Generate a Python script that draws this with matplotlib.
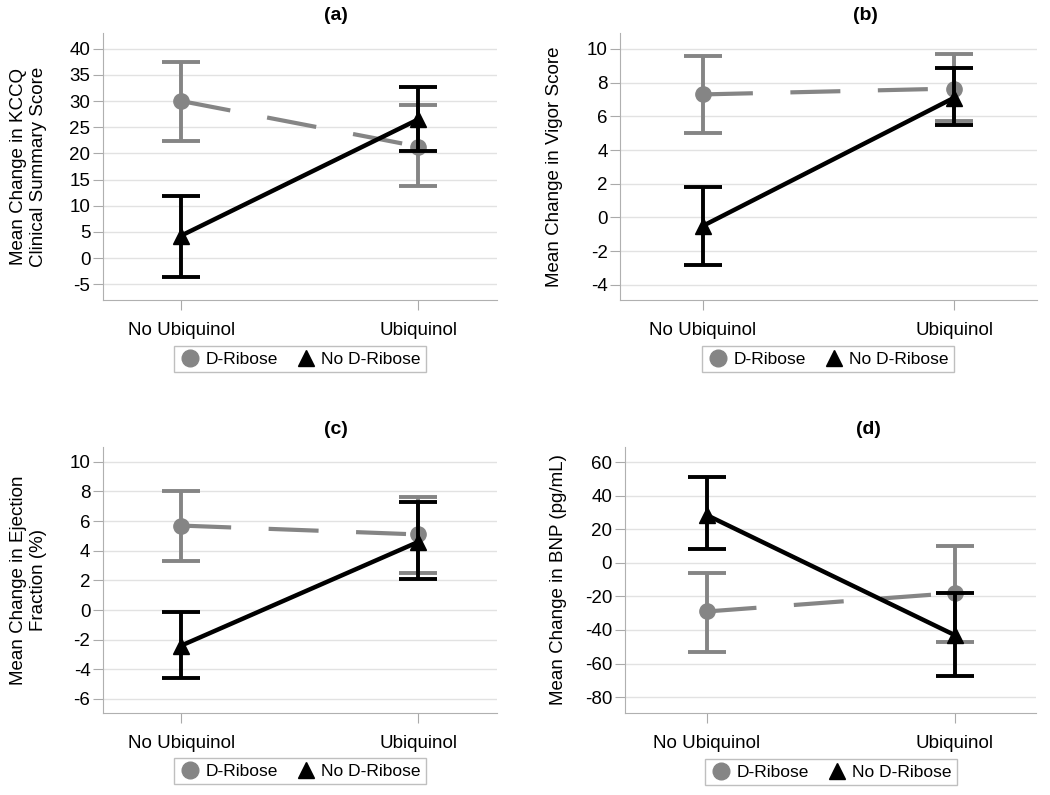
import numpy as np
import matplotlib
matplotlib.use("Agg")
import matplotlib.pyplot as plt
from matplotlib.lines import Line2D

plt.rcParams['font.family'] = ['Liberation Sans', 'DejaVu Sans']

groups = ["No Ubiquinol", "Ubiquinol"]
series = ["D-Ribose", "No D-Ribose"]

# panel data: mean, lower CI, upper CI for (No Ubiquinol, Ubiquinol)
a_rib = [30.0, 21.3]
a_rib_lo = [22.3, 13.8]
a_rib_hi = [37.5, 29.3]
a_norib = [4.3, 26.5]
a_norib_lo = [-3.6, 20.4]
a_norib_hi = [11.8, 32.7]

b_rib = [7.3, 7.65]
b_rib_lo = [5.0, 5.7]
b_rib_hi = [9.6, 9.7]
b_norib = [-0.5, 7.1]
b_norib_lo = [-2.85, 5.5]
b_norib_hi = [1.8, 8.85]

c_rib = [5.7, 5.1]
c_rib_lo = [3.3, 2.5]
c_rib_hi = [8.0, 7.6]
c_norib = [-2.4, 4.6]
c_norib_lo = [-4.6, 2.1]
c_norib_hi = [-0.1, 7.3]

d_rib = [-29.0, -18.0]
d_rib_lo = [-53.0, -47.0]
d_rib_hi = [-6.0, 10.0]
d_norib = [28.5, -43.0]
d_norib_lo = [8.0, -67.5]
d_norib_hi = [51.0, -18.0]

panels = [
    dict(tag="(a)", ylabel="Mean Change in KCCQ\nClinical Summary Score",
         ticks=list(range(-5, 41, 5)), ylim=(-8, 43),
         rib=(a_rib, a_rib_lo, a_rib_hi), norib=(a_norib, a_norib_lo, a_norib_hi),
         rect=[0.098, 0.6226, 0.375, 0.336], title_xy=(336, 16), leg_xy=(300, 359), ylx=-0.142),
    dict(tag="(b)", ylabel="Mean Change in Vigor Score",
         ticks=list(range(-4, 11, 2)), ylim=(-4.9, 10.95),
         rib=(b_rib, b_rib_lo, b_rib_hi), norib=(b_norib, b_norib_lo, b_norib_hi),
         rect=[0.5905, 0.6226, 0.397, 0.336], title_xy=(865, 16), leg_xy=(828, 359), ylx=-0.137),
    dict(tag="(c)", ylabel="Mean Change in Ejection\nFraction (%)",
         ticks=list(range(-6, 11, 2)), ylim=(-6.95, 11.0),
         rib=(c_rib, c_rib_lo, c_rib_hi), norib=(c_norib, c_norib_lo, c_norib_hi),
         rect=[0.098, 0.1031, 0.375, 0.3346], title_xy=(336, 430), leg_xy=(300, 771), ylx=-0.142),
    dict(tag="(d)", ylabel="Mean Change in BNP (pg/mL)",
         ticks=list(range(-80, 61, 20)), ylim=(-89.5, 69),
         rib=(d_rib, d_rib_lo, d_rib_hi), norib=(d_norib, d_norib_lo, d_norib_hi),
         rect=[0.595, 0.1031, 0.392, 0.3346], title_xy=(868, 430), leg_xy=(831, 772), ylx=-0.141),
]

GRAY = "#858585"
BLACK = "#000000"
W, H = 1050, 795

fig = plt.figure(figsize=(10.5, 7.95), dpi=100)

x = np.arange(len(groups))

for p in panels:
    ax = fig.add_axes(p["rect"])
    for key, col, ls, mk, z in [("rib", GRAY, (0, (12, 9)), "o", 3), ("norib", BLACK, "-", "^", 4)]:
        m, lo, hi = p[key]
        m = np.array(m); lo = np.array(lo); hi = np.array(hi)
        ax.errorbar(x, m, yerr=[m - lo, hi - m], fmt="none", ecolor=col,
                    elinewidth=2.8, capsize=14, capthick=2.8, zorder=z)
        ax.plot(x, m, color=col, lw=3.2 if key == "norib" else 3, linestyle=ls, zorder=z)
        ax.plot(x, m, linestyle="none", marker=mk, color=col, ms=11, zorder=z + 0.5)

    ax.set_xlim(-0.33, 1.33)
    ax.set_ylim(*p["ylim"])
    ax.set_xticks(x)
    ax.set_xticklabels(groups, fontsize=13.5)
    ax.set_yticks(p["ticks"])
    ax.set_yticklabels([str(t) for t in p["ticks"]], fontsize=13.5)
    ax.tick_params(axis="x", length=7, color="#aaaaaa", pad=9)
    ax.tick_params(axis="y", length=7, color="#aaaaaa", pad=2)
    ax.grid(axis="y", color="#e2e2e2", lw=1)
    ax.set_axisbelow(True)
    for s in ["top", "right"]:
        ax.spines[s].set_visible(False)
    for s in ["left", "bottom"]:
        ax.spines[s].set_color("#b0b0b0")
    ax.set_ylabel(p["ylabel"], fontsize=13.5)
    ax.yaxis.set_label_coords(p["ylx"], 0.5)

    fig.text(p["title_xy"][0] / W, 1 - p["title_xy"][1] / H, p["tag"],
             ha="center", va="center", fontsize=14, fontweight="bold")

    handles = [Line2D([], [], linestyle="none", marker="o", color=GRAY, ms=12),
               Line2D([], [], linestyle="none", marker="^", color=BLACK, ms=11)]
    fig.legend(handles, series, loc="center",
               bbox_to_anchor=(p["leg_xy"][0] / W, 1 - p["leg_xy"][1] / H),
               ncol=2, fontsize=12.5, frameon=True, fancybox=False,
               edgecolor="#b0b0b0", handletextpad=0.3, columnspacing=1.0,
               borderpad=0.3, handlelength=1.2)

fig.savefig("out.png", dpi=100)
